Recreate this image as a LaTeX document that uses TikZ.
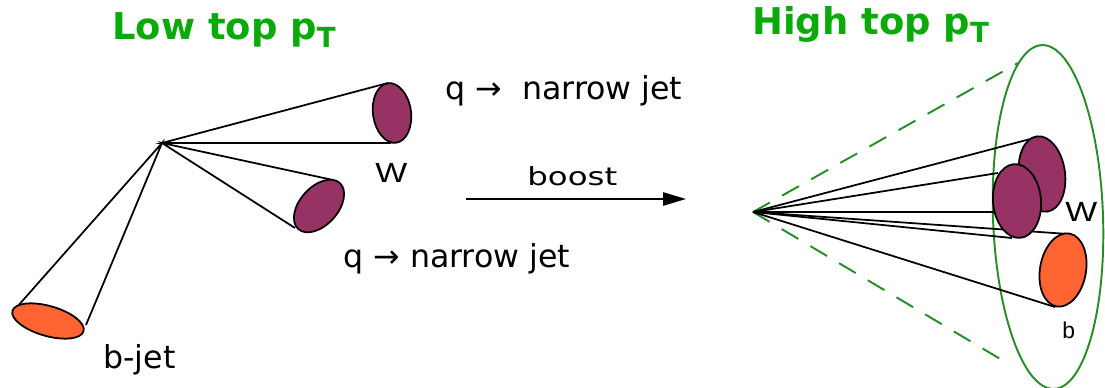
\documentclass[tikz,border=0pt]{standalone}
\usepackage{fontspec}
\setmainfont{DejaVu Sans}
\newfontfamily\labfont{Liberation Sans}
\usetikzlibrary{arrows.meta}
\definecolor{jetpurple}{RGB}{150,50,100}
\definecolor{jetorange}{RGB}{255,100,50}
\definecolor{titlegreen}{RGB}{10,170,10}
\definecolor{conegreen}{RGB}{40,140,40}
\tikzset{
  cone/.style={line width=1pt, black},
  jetW/.style={draw=black, line width=1pt, fill=jetpurple},
  jetB/.style={draw=black, line width=1pt, fill=jetorange},
  fatjet/.style={draw=conegreen, line width=1.1pt},
  fatcone/.style={conegreen, line width=1.1pt, dash pattern=on 11pt off 8pt},
  title/.style={anchor=base west, inner sep=0pt, text=titlegreen, font=\fontsize{21}{23}\selectfont\bfseries},
  txt/.style={anchor=base west, inner sep=0pt, font=\fontsize{18}{20}\selectfont},
  lab/.style={anchor=base west, inner sep=0pt, font=\fontsize{15.8}{17}\selectfont\labfont}
}
\newcommand{\ptsub}{p\raisebox{-0.35ex}{\scalebox{0.75}{T}}}
\newcommand{\wideW}{\scalebox{1.22}[1]{W}}
\begin{document}
\begin{tikzpicture}[x=0.02cm, y=-0.02cm]
\useasboundingbox (0,0) rectangle (1105,388);

% ---------- low top pT: three separate jets ----------
\coordinate (v1) at (162,143);
\coordinate (wt) at (388,83);
\coordinate (wb) at (391,143);
\coordinate (qt) at (333,180);
\coordinate (qb) at (295,228);
\coordinate (bt) at (17,307);
\coordinate (bb) at (86,325);
\draw[cone] (wt) -- (v1) -- (wb);
\draw[cone] (qt) -- (v1) -- (qb);
\draw[cone] (bt) -- (v1) -- (bb);
\draw[jetW, rotate around={8:(392,113)}] (392,113) ellipse (19 and 30);
\draw[jetW, rotate around={-42:(319,206)}] (319,206) ellipse (19 and 31);
\draw[jetB, rotate around={-16:(48,321)}] (48,321) ellipse (37 and 15);

\node[title] (lowtitle) at (112,40) {Low top \ptsub};
\node[lab] (wlow) at (375,183) {\wideW};
\node[txt] (qup) at (445,100) {q →~ narrow jet};
\node[txt] (qdown) at (343,267) {q → narrow jet};
\node[txt] (bjet) at (103,368) {b-jet};

% ---------- boost arrow ----------
\coordinate (ba) at (466,199);
\coordinate (bz) at (686,199);
\draw[line width=1pt, -{Triangle[length=13pt,width=7.5pt]}] (ba) -- (bz);
\node[anchor=base west, inner sep=0pt, font=\fontsize{14.2}{16}\selectfont] (boost) at (527,186) {\scalebox{1.3}[1]{boost}};

% ---------- high top pT: one fat jet ----------
\coordinate (v2) at (753,212);
\coordinate (dt) at (1018,63);
\coordinate (db) at (1007,363);
\draw[fatcone] (v2) -- (dt);
\draw[fatcone] (v2) -- (db);
\draw[fatjet, rotate around={2:(1048,217)}] (1048,217) ellipse (55 and 172);

\draw[cone] (v2) -- (1038,137);
\draw[cone] (v2) -- (1030,212);
\draw[cone] (v2) -- (998,173);
\draw[cone] (v2) -- (1012,238);
\draw[cone] (v2) -- (1068,234);
\draw[cone] (v2) -- (1055,307);
\draw[jetW, rotate around={8:(1042,174)}] (1042,174) ellipse (23 and 38);
\draw[jetW, rotate around={5:(1017,201)}] (1017,201) ellipse (24 and 37);
\draw[jetB, rotate around={-10:(1063,270)}] (1063,270) ellipse (23 and 37);

\node[title] (hightitle) at (752,35) {High top \ptsub};
\node[lab] (whigh) at (1065,222) {\wideW};
\node[lab, font=\fontsize{13}{15}\selectfont\labfont] (bhigh) at (1062,338) {b};
\end{tikzpicture}
\end{document}
